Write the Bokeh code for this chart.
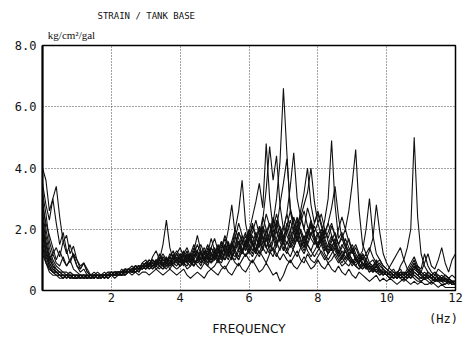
from bokeh.plotting import figure
from bokeh.models import Range1d, FixedTicker, LinearAxis, PrintfTickFormatter
from bokeh.embed import file_html
from bokeh.resources import INLINE

# frequency axis: 0.0 .. 12.0 Hz in 0.1 Hz steps
freq = [i / 10 for i in range(121)]

x_ticks = [0, 2, 4, 6, 8, 10, 12]
y_ticks = [0, 2, 4, 6, 8]
title_text = "STRAIN / TANK BASE"
unit_y = "kg/cm²/gal"
unit_x = "(Hz)"
x_name = "FREQUENCY"

curve_a = [2.6, 1.8, 1.2, 0.9, 0.7, 0.6, 0.6, 0.5, 0.6, 0.5,
           0.5, 0.5, 0.4, 0.5, 0.5, 0.5, 0.4, 0.5, 0.5, 0.5,
           0.6, 0.5, 0.6, 0.6, 0.7, 0.6, 0.7, 0.8, 0.7, 0.8,
           0.9, 0.8, 1.0, 0.9, 0.8, 1.1, 1.0, 0.9, 1.2, 1.0,
           0.9, 1.1, 1.3, 1.0, 0.8, 1.0, 1.2, 1.4, 1.1, 0.9,
           1.0, 1.3, 1.6, 1.2, 1.0, 1.4, 1.8, 1.5, 1.2, 1.6,
           2.0, 1.6, 1.3, 1.8, 2.4, 2.0, 1.6, 2.2, 3.0, 4.2,
           6.6, 4.5, 2.6, 2.0, 2.4, 1.9, 1.5, 1.8, 2.2, 1.7,
           1.4, 1.7, 2.0, 1.6, 1.3, 1.5, 1.2, 1.0, 1.3, 1.1,
           0.9, 1.1, 0.8, 0.7, 0.9, 0.7, 0.6, 0.8, 0.6, 0.5,
           0.6, 0.5, 0.4, 0.5, 0.6, 0.5, 0.4, 0.6, 0.8, 0.6,
           0.5, 0.4, 0.5, 0.4, 0.3, 0.4, 0.5, 0.4, 0.3, 0.3,
           0.3]
curve_b = [2.0, 1.3, 0.9, 0.7, 0.6, 0.5, 0.5, 0.5, 0.4, 0.5,
           0.5, 0.4, 0.5, 0.5, 0.4, 0.5, 0.5, 0.5, 0.6, 0.5,
           0.5, 0.6, 0.6, 0.5, 0.7, 0.7, 0.6, 0.7, 0.8, 0.7,
           0.8, 0.9, 0.7, 0.8, 1.0, 0.9, 0.8, 1.1, 0.9, 0.8,
           1.0, 1.2, 0.9, 0.8, 1.1, 1.3, 1.0, 0.9, 1.2, 1.4,
           1.1, 1.0, 1.3, 1.7, 1.4, 1.1, 1.5, 1.9, 1.6, 1.3,
           1.7, 2.2, 1.8, 1.4, 1.9, 2.5, 2.1, 1.7, 2.3, 2.0,
           1.6, 2.1, 2.6, 2.2, 1.8, 2.4, 2.0, 2.7, 2.3, 1.9,
           2.2, 1.8, 2.3, 3.0, 4.9, 2.8, 1.7, 1.9, 1.5, 1.2,
           1.4, 1.1, 0.9, 1.2, 1.0, 0.8, 0.7, 0.9, 0.7, 0.6,
           0.5, 0.6, 0.5, 0.4, 0.5, 0.6, 0.5, 0.7, 0.9, 0.7,
           0.5, 0.4, 0.6, 0.5, 0.4, 0.3, 0.4, 0.5, 0.4, 0.3,
           0.3]
curve_c = [1.6, 1.1, 0.8, 0.6, 0.6, 0.5, 0.4, 0.5, 0.5, 0.4,
           0.4, 0.5, 0.5, 0.4, 0.5, 0.4, 0.5, 0.5, 0.5, 0.6,
           0.6, 0.5, 0.5, 0.6, 0.6, 0.7, 0.8, 0.7, 0.6, 0.8,
           0.9, 0.7, 0.8, 1.0, 0.8, 0.7, 0.9, 1.1, 0.9, 1.0,
           1.2, 0.9, 0.8, 1.0, 1.3, 1.1, 0.9, 1.0, 1.4, 1.2,
           1.0, 1.2, 1.5, 1.3, 1.1, 1.6, 2.0, 1.7, 1.3, 1.5,
           1.9, 1.5, 1.2, 1.6, 2.1, 1.8, 1.4, 1.7, 2.2, 1.8,
           1.5, 1.9, 2.3, 1.9, 1.6, 2.0, 1.7, 1.5, 1.8, 2.1,
           1.8, 1.5, 1.9, 2.2, 1.8, 1.5, 2.0, 2.4, 2.0, 2.6,
           3.5, 4.6, 2.6, 1.5, 1.2, 1.4, 1.1, 0.9, 1.0, 0.8,
           0.7, 0.6, 0.5, 0.6, 0.5, 0.4, 0.5, 0.6, 0.7, 0.6,
           0.5, 0.6, 0.5, 0.4, 0.5, 0.4, 0.3, 0.4, 0.3, 0.3,
           0.2]
curve_d = [3.0, 2.0, 1.4, 1.0, 0.8, 0.7, 0.6, 0.6, 0.5, 0.5,
           0.5, 0.5, 0.4, 0.4, 0.5, 0.5, 0.5, 0.4, 0.5, 0.5,
           0.5, 0.6, 0.5, 0.6, 0.7, 0.6, 0.7, 0.7, 0.8, 0.8,
           0.7, 0.9, 1.0, 0.8, 0.9, 1.1, 0.9, 0.8, 1.0, 1.2,
           1.0, 0.8, 1.1, 1.2, 0.9, 1.0, 1.3, 1.1, 0.9, 1.2,
           1.4, 1.1, 1.0, 1.3, 1.6, 1.2, 1.1, 1.4, 1.8, 1.5,
           1.2, 1.5, 1.9, 1.6, 1.3, 1.7, 2.2, 1.8, 1.5, 1.9,
           1.6, 1.3, 1.7, 2.0, 1.7, 1.4, 1.8, 1.5, 1.3, 1.6,
           1.9, 1.6, 1.3, 1.5, 1.8, 1.4, 1.2, 1.5, 1.3, 1.1,
           1.3, 1.0, 0.9, 1.1, 0.8, 0.9, 1.0, 0.8, 0.7, 0.6,
           0.5, 0.6, 0.7, 0.5, 0.8, 1.0, 1.4, 2.0, 5.0, 2.4,
           1.2, 0.8, 0.6, 0.5, 0.6, 0.5, 0.4, 0.5, 0.4, 0.3,
           0.3]
curve_e = [2.4, 1.6, 1.1, 0.8, 0.7, 0.6, 0.5, 0.5, 0.6, 0.5,
           0.5, 0.4, 0.5, 0.5, 0.5, 0.4, 0.5, 0.5, 0.5, 0.5,
           0.6, 0.6, 0.5, 0.7, 0.6, 0.7, 0.7, 0.8, 0.7, 0.9,
           0.8, 1.0, 0.9, 0.8, 1.1, 1.0, 0.9, 1.2, 1.1, 0.9,
           1.1, 1.3, 1.0, 0.9, 1.2, 1.5, 1.2, 1.0, 1.1, 1.4,
           1.2, 1.0, 1.4, 1.8, 1.5, 1.2, 1.7, 2.2, 1.8, 1.4,
           1.9, 2.4, 2.9, 3.5, 2.7, 4.8, 3.0, 2.0, 2.5, 2.0,
           1.7, 2.2, 1.8, 1.5, 2.0, 1.7, 1.4, 1.8, 2.1, 1.7,
           1.4, 1.8, 1.5, 1.2, 1.4, 1.7, 1.3, 1.1, 1.3, 1.0,
           0.9, 1.1, 0.8, 0.9, 0.7, 0.8, 0.6, 0.7, 0.5, 0.6,
           0.5, 0.4, 0.5, 0.6, 0.5, 0.4, 0.5, 0.6, 0.5, 0.4,
           0.4, 0.5, 0.4, 0.3, 0.4, 0.3, 0.3, 0.4, 0.3, 0.2,
           0.2]
curve_f = [1.8, 1.2, 0.8, 0.6, 0.6, 0.5, 0.5, 0.4, 0.5, 0.5,
           0.4, 0.5, 0.5, 0.5, 0.4, 0.5, 0.4, 0.5, 0.5, 0.6,
           0.5, 0.6, 0.6, 0.6, 0.6, 0.7, 0.6, 0.8, 0.8, 0.7,
           0.9, 0.8, 0.8, 1.0, 0.9, 0.8, 1.1, 0.9, 1.0, 1.2,
           1.0, 0.9, 1.2, 1.0, 1.1, 1.3, 1.0, 1.2, 1.5, 1.2,
           1.0, 1.3, 1.6, 1.3, 1.2, 1.5, 1.4, 1.9, 1.6, 1.3,
           1.6, 2.1, 1.7, 1.5, 2.3, 3.3, 4.7, 3.6, 4.4, 2.8,
           2.0, 2.5, 2.0, 1.6, 2.1, 2.5, 2.0, 1.7, 2.2, 1.8,
           1.5, 1.9, 1.6, 1.3, 1.6, 1.9, 1.5, 1.2, 1.0, 1.2,
           1.0, 0.8, 1.0, 0.9, 0.7, 0.8, 0.7, 0.6, 0.7, 0.5,
           0.6, 0.5, 0.4, 0.5, 0.4, 0.5, 0.6, 0.7, 0.9, 0.6,
           0.5, 0.4, 0.4, 0.5, 0.4, 0.3, 0.4, 0.3, 0.3, 0.2,
           0.2]
curve_g = [2.2, 1.5, 1.0, 0.8, 0.6, 0.5, 0.5, 0.5, 0.5, 0.4,
           0.5, 0.5, 0.5, 0.4, 0.5, 0.5, 0.5, 0.5, 0.4, 0.5,
           0.5, 0.5, 0.6, 0.6, 0.5, 0.6, 0.7, 0.6, 0.7, 0.8,
           0.7, 0.8, 0.9, 0.8, 0.7, 0.9, 1.0, 0.8, 0.9, 1.1,
           0.9, 1.0, 1.2, 0.9, 0.8, 1.1, 1.3, 1.0, 0.9, 1.2,
           1.1, 0.9, 1.2, 1.5, 1.2, 1.4, 2.0, 2.6, 3.6, 2.2,
           1.6, 1.9, 2.3, 1.8, 1.5, 1.9, 2.2, 1.7, 1.4, 1.8,
           2.1, 1.8, 1.5, 1.9, 2.3, 1.9, 1.6, 2.0, 1.7, 1.5,
           1.8, 2.0, 1.7, 1.4, 1.7, 1.5, 1.2, 1.4, 1.7, 1.4,
           1.2, 1.4, 1.1, 1.3, 2.0, 3.0, 1.8, 1.2, 1.0, 0.8,
           0.7, 0.6, 0.5, 0.6, 0.7, 0.5, 0.4, 0.5, 0.6, 0.5,
           0.4, 0.5, 0.6, 0.5, 0.4, 0.5, 0.4, 0.3, 0.4, 0.3,
           0.3]
curve_h = [1.5, 1.0, 0.7, 0.6, 0.5, 0.5, 0.4, 0.5, 0.5, 0.5,
           0.5, 0.4, 0.4, 0.5, 0.5, 0.5, 0.5, 0.4, 0.5, 0.5,
           0.6, 0.5, 0.5, 0.6, 0.7, 0.6, 0.6, 0.7, 0.8, 0.7,
           0.8, 0.9, 0.8, 0.9, 1.0, 0.8, 0.9, 1.0, 0.8, 1.0,
           1.1, 0.9, 1.0, 1.2, 1.0, 0.9, 1.1, 1.3, 1.1, 1.0,
           1.2, 1.4, 1.1, 1.0, 1.3, 1.6, 1.3, 1.1, 1.5, 1.8,
           1.4, 1.2, 1.6, 2.0, 1.7, 1.4, 1.8, 2.3, 1.9, 1.6,
           2.0, 2.5, 3.4, 4.5, 3.0, 2.4, 2.8, 3.2, 4.0, 2.9,
           2.2, 2.5, 2.0, 1.7, 2.1, 1.8, 1.5, 1.7, 1.4, 1.2,
           1.3, 1.0, 0.9, 1.1, 0.9, 0.7, 0.8, 0.9, 0.7, 0.6,
           0.5, 0.6, 0.5, 0.4, 0.5, 0.6, 0.5, 0.4, 0.6, 0.5,
           0.4, 0.4, 0.5, 0.4, 0.3, 0.4, 0.4, 0.3, 0.3, 0.2,
           0.2]
curve_i = [1.9, 1.3, 0.9, 0.7, 0.6, 0.6, 0.5, 0.5, 0.4, 0.5,
           0.5, 0.5, 0.4, 0.5, 0.4, 0.5, 0.5, 0.5, 0.5, 0.4,
           0.5, 0.6, 0.6, 0.5, 0.6, 0.6, 0.7, 0.7, 0.6, 0.8,
           0.9, 0.8, 0.7, 0.9, 1.0, 0.8, 0.7, 0.9, 1.1, 0.9,
           0.8, 1.0, 1.1, 0.9, 1.2, 1.0, 0.8, 1.1, 1.0, 0.9,
           1.1, 1.3, 1.0, 1.2, 1.5, 1.1, 1.0, 1.3, 1.2, 1.5,
           1.8, 1.5, 1.3, 1.7, 2.0, 1.6, 1.9, 2.4, 2.0, 2.8,
           3.5, 4.3, 2.7, 2.2, 1.8, 2.2, 2.6, 2.1, 1.8, 2.2,
           2.5, 2.1, 1.7, 1.9, 2.2, 1.8, 1.5, 1.8, 1.5, 1.3,
           1.5, 1.2, 1.0, 1.2, 1.0, 1.3, 1.7, 2.8, 1.9, 1.2,
           0.9, 0.7, 0.6, 0.5, 0.6, 0.5, 0.6, 0.7, 0.6, 0.5,
           0.6, 0.5, 0.4, 0.5, 0.4, 0.3, 0.4, 0.4, 0.3, 0.3,
           0.2]
curve_j = [4.0, 3.6, 2.6, 3.0, 3.4, 2.4, 1.6, 1.2, 1.5, 1.1,
           0.8, 0.7, 0.9, 0.7, 0.5, 0.6, 0.5, 0.5, 0.4, 0.5,
           0.5, 0.6, 0.5, 0.6, 0.7, 0.6, 0.7, 0.8, 0.7, 0.9,
           1.0, 0.8, 1.1, 1.3, 1.0, 1.5, 2.3, 1.4, 1.0, 1.2,
           1.4, 1.1, 0.9, 1.2, 1.5, 1.2, 1.0, 1.3, 1.1, 0.9,
           1.2, 1.4, 1.1, 1.0, 1.3, 1.5, 1.2, 1.0, 1.3, 1.6,
           1.3, 1.1, 1.4, 1.7, 1.4, 1.2, 1.5, 1.3, 1.1, 1.4,
           1.6, 1.3, 1.1, 1.4, 1.7, 1.4, 1.2, 1.5, 1.3, 1.1,
           1.3, 1.5, 1.2, 1.0, 1.2, 1.4, 1.1, 0.9, 1.1, 1.0,
           0.8, 1.0, 0.9, 0.7, 0.8, 0.6, 0.7, 0.6, 0.5, 0.6,
           0.5, 0.4, 0.5, 0.4, 0.5, 0.6, 0.5, 0.4, 0.5, 0.4,
           0.3, 0.4, 0.5, 0.4, 0.3, 0.4, 0.3, 0.2, 0.3, 0.2,
           0.2]
curve_k = [3.5, 2.8, 2.3, 3.0, 2.2, 1.5, 1.9, 1.3, 0.9, 1.2,
           0.8, 0.6, 0.7, 0.5, 0.5, 0.4, 0.5, 0.5, 0.5, 0.4,
           0.5, 0.5, 0.6, 0.6, 0.5, 0.7, 0.6, 0.7, 0.8, 0.7,
           0.8, 0.9, 0.8, 1.0, 0.9, 0.8, 1.0, 1.1, 0.9, 1.0,
           1.2, 1.0, 0.9, 1.1, 1.4, 1.1, 0.9, 1.2, 1.3, 1.0,
           1.2, 1.5, 1.2, 1.4, 2.0, 2.8, 1.8, 1.3, 1.6, 1.9,
           1.5, 1.3, 1.7, 2.1, 1.7, 1.4, 1.6, 2.0, 1.6, 1.3,
           1.7, 2.0, 1.6, 1.4, 1.8, 1.5, 1.3, 1.6, 1.9, 1.6,
           1.4, 1.7, 1.4, 1.2, 1.5, 1.3, 1.1, 1.3, 1.1, 1.2,
           1.0, 0.9, 1.1, 0.8, 0.9, 0.7, 0.8, 0.6, 0.7, 0.6,
           0.5, 0.6, 0.5, 0.4, 0.6, 0.5, 0.6, 0.8, 1.0, 0.7,
           0.5, 0.4, 0.5, 0.4, 0.3, 0.4, 0.3, 0.3, 0.2, 0.3,
           0.2]
curve_l = [1.2, 0.9, 0.7, 0.6, 0.5, 0.5, 0.5, 0.4, 0.5, 0.4,
           0.4, 0.5, 0.5, 0.5, 0.4, 0.4, 0.5, 0.5, 0.5, 0.5,
           0.5, 0.5, 0.6, 0.5, 0.6, 0.7, 0.6, 0.6, 0.7, 0.8,
           0.7, 0.8, 0.9, 0.7, 0.8, 1.0, 0.9, 0.7, 0.9, 1.0,
           0.8, 0.9, 1.1, 0.9, 0.8, 1.0, 1.2, 1.0, 0.8, 1.1,
           1.3, 1.0, 0.9, 1.2, 1.4, 1.1, 1.3, 1.6, 1.3, 1.1,
           1.4, 1.8, 1.5, 1.2, 1.6, 2.0, 1.6, 1.3, 1.7, 2.1,
           1.8, 1.5, 1.9, 2.4, 2.0, 2.6, 3.2, 4.0, 2.8, 2.2,
           2.6, 2.2, 1.8, 2.2, 2.7, 3.4, 2.4, 1.7, 2.0, 1.6,
           1.3, 1.5, 1.2, 1.0, 1.2, 0.9, 0.8, 1.0, 0.8, 0.7,
           0.6, 0.5, 0.6, 0.5, 0.4, 0.5, 0.6, 0.5, 0.7, 0.8,
           0.6, 0.5, 0.4, 0.5, 0.6, 0.4, 0.3, 0.4, 0.3, 0.3,
           0.2]
curve_m = [1.4, 0.9, 0.6, 0.5, 0.5, 0.4, 0.4, 0.5, 0.4, 0.4,
           0.4, 0.4, 0.5, 0.4, 0.4, 0.5, 0.4, 0.4, 0.5, 0.4,
           0.5, 0.4, 0.5, 0.5, 0.5, 0.6, 0.5, 0.6, 0.5, 0.6,
           0.6, 0.5, 0.6, 0.7, 0.6, 0.5, 0.6, 0.7, 0.6, 0.5,
           0.6, 0.7, 0.5, 0.4, 0.5, 0.6, 0.5, 0.4, 0.6, 0.7,
           0.6, 0.5, 0.7, 0.8, 0.6, 0.5, 0.7, 0.9, 0.7, 0.6,
           0.8, 1.0, 0.8, 0.6, 0.7, 0.9, 0.7, 0.5, 0.6, 0.3,
           0.5, 0.8, 1.0, 0.8, 0.7, 0.9, 1.1, 0.9, 0.7, 0.8,
           1.0, 0.8, 0.7, 0.9, 0.7, 0.6, 0.8, 0.6, 0.5, 0.7,
           0.5, 0.4, 0.6, 0.5, 0.4, 0.3, 0.4, 0.5, 0.3, 0.4,
           0.3, 0.4, 0.3, 0.2, 0.3, 0.4, 0.3, 0.2, 0.3, 0.2,
           0.3, 0.2, 0.2, 0.3, 0.2, 0.1, 0.2, 0.1, 0.1, 0.1,
           0.1]
curve_n = [2.8, 2.2, 1.8, 1.4, 1.0, 1.3, 1.0, 0.8, 1.0, 0.7,
           0.6, 0.5, 0.5, 0.4, 0.5, 0.5, 0.4, 0.5, 0.5, 0.5,
           0.5, 0.5, 0.6, 0.5, 0.6, 0.6, 0.7, 0.6, 0.7, 0.7,
           0.8, 0.7, 0.8, 0.9, 0.8, 0.7, 0.8, 0.9, 0.8, 0.7,
           0.8, 0.9, 0.7, 0.8, 1.0, 0.8, 0.7, 0.9, 0.8, 0.7,
           0.8, 1.0, 0.8, 0.7, 0.9, 1.1, 0.9, 0.8, 1.0, 1.2,
           1.0, 0.9, 1.1, 1.3, 1.1, 0.9, 1.2, 1.4, 1.2, 1.0,
           1.2, 1.0, 0.9, 1.1, 1.3, 1.0, 0.9, 1.2, 1.0, 0.9,
           1.1, 1.3, 1.1, 0.9, 1.0, 1.2, 1.0, 0.8, 0.9, 1.1,
           0.9, 0.8, 0.7, 0.9, 0.8, 0.6, 0.7, 0.8, 0.6, 0.7,
           0.6, 0.8, 1.0, 1.2, 1.4, 1.0, 0.7, 0.6, 0.8, 0.7,
           0.6, 0.9, 1.2, 0.8, 0.7, 1.0, 1.4, 0.9, 0.6, 1.0,
           1.2]
curve_o = [3.2, 2.5, 1.6, 1.2, 1.4, 1.1, 1.6, 1.8, 1.2, 1.45,
           1.0, 0.7, 0.9, 0.6, 0.5, 0.5, 0.6, 0.5, 0.4, 0.5,
           0.5, 0.6, 0.5, 0.5, 0.6, 0.7, 0.6, 0.6, 0.7, 0.8,
           0.9, 0.8, 1.0, 0.9, 1.2, 1.0, 0.9, 1.1, 1.3, 1.0,
           0.9, 1.2, 1.4, 1.1, 1.0, 1.3, 1.5, 1.2, 1.0, 1.4,
           1.7, 1.3, 1.1, 1.5, 1.2, 1.0, 1.4, 1.6, 1.3, 1.1,
           1.3, 1.6, 1.3, 1.1, 1.4, 1.7, 1.3, 1.1, 1.5, 1.8,
           1.4, 1.2, 1.5, 1.3, 1.1, 1.4, 1.6, 1.3, 1.1, 1.3,
           1.5, 1.2, 1.0, 1.2, 1.4, 1.1, 0.9, 1.1, 0.9, 0.8,
           1.0, 0.8, 0.7, 0.8, 1.0, 0.8, 0.6, 0.7, 0.6, 0.5,
           0.6, 0.5, 0.4, 0.5, 0.6, 0.5, 0.7, 0.9, 1.1, 0.8,
           0.7, 1.2, 0.8, 0.6, 0.5, 0.7, 0.6, 0.5, 0.4, 0.5,
           0.4]
curve_p = [2.0, 1.5, 1.0, 1.2, 0.9, 0.8, 1.1, 0.8, 1.0, 1.2,
           1.0, 0.8, 0.9, 0.6, 0.5, 0.5, 0.4, 0.5, 0.5, 0.5,
           0.6, 0.5, 0.5, 0.6, 0.7, 0.6, 0.7, 0.8, 0.7, 0.8,
           0.9, 1.0, 0.9, 0.8, 1.0, 1.2, 1.0, 0.9, 1.1, 1.3,
           1.1, 0.9, 1.2, 1.0, 1.3, 1.8, 1.3, 1.0, 1.2, 1.7,
           1.3, 1.1, 1.3, 1.0, 1.2, 1.5, 1.2, 1.0, 1.3, 1.6,
           1.9, 1.5, 1.2, 1.5, 1.8, 1.4, 1.2, 1.6, 2.0, 1.6,
           1.3, 1.6, 1.4, 1.7, 2.0, 1.6, 1.4, 1.9, 2.3, 1.8,
           1.5, 1.8, 1.4, 1.2, 1.4, 1.6, 1.3, 1.1, 1.4, 1.7,
           1.3, 1.0, 1.2, 0.9, 0.8, 0.9, 0.7, 0.8, 0.9, 0.7,
           0.5, 0.4, 0.5, 0.6, 0.4, 0.3, 0.4, 0.5, 0.4, 0.3,
           0.3, 0.4, 0.3, 0.2, 0.3, 0.3, 0.2, 0.2, 0.3, 0.2,
           0.2]

curves = [curve_a, curve_b, curve_c, curve_d, curve_e, curve_f, curve_g, curve_h,
          curve_i, curve_j, curve_k, curve_l, curve_m, curve_n, curve_o, curve_p]

ink = "#111111"
mono = "DejaVu Sans Mono"

p = figure(width=469, height=338, output_backend="svg", toolbar_location=None,
           x_range=Range1d(0, 12), y_range=Range1d(0, 8),
           min_border_left=42, min_border_right=14, min_border_top=45, min_border_bottom=46)
p.background_fill_color = "white"
p.border_fill_color = "white"
p.outline_line_color = "black"
p.outline_line_width = 1.5

for c in curves:
    p.line(freq, c, line_color=ink, line_width=1.1)

# title
p.title.text = title_text
p.title.align = "left"
p.title.offset = 55
p.title.text_font = mono
p.title.text_font_size = "9px"
p.title.text_font_style = "normal"
p.title.text_color = ink
p.title.standoff = 9

# pixel-based helper range for text placed around the frame
p.extra_x_ranges = {"px": Range1d(0, 413)}


def plain(ax):
    ax.major_tick_line_color = None
    ax.minor_tick_line_color = None
    ax.major_tick_out = 0
    ax.major_tick_in = 0
    ax.minor_tick_out = 0
    ax.minor_tick_in = 0
    ax.major_label_text_color = ink


xa = p.xaxis[0]
ya = p.yaxis[0]
xa.ticker = FixedTicker(ticks=x_ticks)
ya.ticker = FixedTicker(ticks=y_ticks)
xa.major_label_overrides = {0: ""}
ya.formatter = PrintfTickFormatter(format="%.1f")
ya.major_label_overrides = {0: "0"}
for ax in (xa, ya):
    plain(ax)
    ax.major_label_text_font = mono
    ax.major_label_text_font_size = "12px"
xa.axis_line_color = None
ya.axis_line_color = "black"
ya.axis_line_width = 2
xa.major_label_standoff = 2
ya.major_label_standoff = 6

# unit label above the frame
top_ax = LinearAxis(x_range_name="px", ticker=FixedTicker(ticks=[29]),
                    major_label_overrides={29: unit_y})
plain(top_ax)
top_ax.axis_line_color = None
top_ax.major_label_text_font = "Liberation Serif"
top_ax.major_label_text_font_size = "11px"
top_ax.major_label_standoff = 5
p.add_layout(top_ax, "above")

# unit "(Hz)" and the axis name below the frame
bot_ax = LinearAxis(x_range_name="px", ticker=FixedTicker(ticks=[401]),
                    major_label_overrides={401: unit_x})
plain(bot_ax)
bot_ax.axis_line_color = None
bot_ax.major_label_text_font = mono
bot_ax.major_label_text_font_size = "12px"
bot_ax.major_label_standoff = 7
bot_ax.axis_label = x_name
bot_ax.axis_label_text_font = "DejaVu Sans"
bot_ax.axis_label_text_font_size = "12px"
bot_ax.axis_label_text_font_style = "normal"
bot_ax.axis_label_text_color = ink
bot_ax.axis_label_standoff = -7
p.add_layout(bot_ax, "below")

p.grid.grid_line_color = "#444444"
p.grid.grid_line_dash = "1 2"
p.grid.grid_line_width = 1

open("out.html", "w").write(file_html(p, INLINE))
